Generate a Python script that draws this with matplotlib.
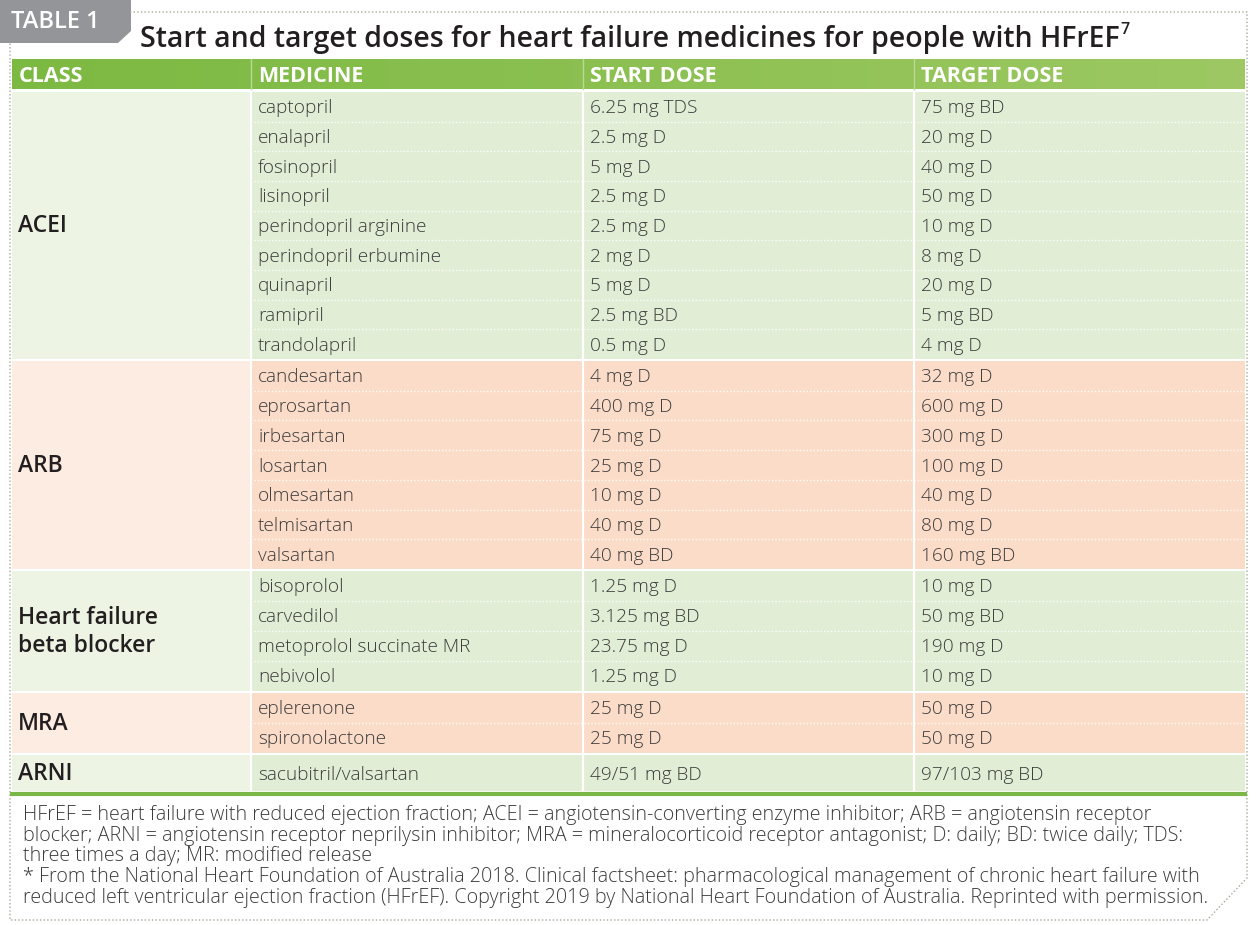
import numpy as np
import matplotlib.pyplot as plt
from matplotlib.patches import Rectangle, Polygon

# ---- table content ----
headers = ['CLASS', 'MEDICINE', 'START DOSE', 'TARGET DOSE']
classes = ['ACEI', 'ARB', 'Heart failure\nbeta blocker', 'MRA', 'ARNI']
medicines = [
    ['captopril', 'enalapril', 'fosinopril', 'lisinopril', 'perindopril arginine',
     'perindopril erbumine', 'quinapril', 'ramipril', 'trandolapril'],
    ['candesartan', 'eprosartan', 'irbesartan', 'losartan', 'olmesartan',
     'telmisartan', 'valsartan'],
    ['bisoprolol', 'carvedilol', 'metoprolol succinate MR', 'nebivolol'],
    ['eplerenone', 'spironolactone'],
    ['sacubitril/valsartan'],
]
start_doses = [
    ['6.25 mg TDS', '2.5 mg D', '5 mg D', '2.5 mg D', '2.5 mg D', '2 mg D',
     '5 mg D', '2.5 mg BD', '0.5 mg D'],
    ['4 mg D', '400 mg D', '75 mg D', '25 mg D', '10 mg D', '40 mg D', '40 mg BD'],
    ['1.25 mg D', '3.125 mg BD', '23.75 mg D', '1.25 mg D'],
    ['25 mg D', '25 mg D'],
    ['49/51 mg BD'],
]
target_doses = [
    ['75 mg BD', '20 mg D', '40 mg D', '50 mg D', '10 mg D', '8 mg D',
     '20 mg D', '5 mg BD', '4 mg D'],
    ['32 mg D', '600 mg D', '300 mg D', '100 mg D', '40 mg D', '80 mg D', '160 mg BD'],
    ['10 mg D', '50 mg BD', '190 mg D', '10 mg D'],
    ['50 mg D', '50 mg D'],
    ['97/103 mg BD'],
]
title = 'Start and target doses for heart failure medicines for people with HFrEF'
title_ref = '7'
footnote = [
    'HFrEF = heart failure with reduced ejection fraction; ACEI = angiotensin-converting enzyme inhibitor; ARB = angiotensin receptor',
    'blocker; ARNI = angiotensin receptor neprilysin inhibitor; MRA = mineralocorticoid receptor antagonist; D: daily; BD: twice daily; TDS:',
    'three times a day; MR: modified release',
    '* From the National Heart Foundation of Australia 2018. Clinical factsheet: pharmacological management of chronic heart failure with',
    'reduced left ventricular ejection fraction (HFrEF). Copyright 2019 by National Heart Foundation of Australia. Reprinted with permission.',
]

# ---- layout / style ----
W, H = 1257, 925
col_x = [12, 251, 583, 914, 1245]
text_pad = 7
row_h = 29.5
body_top = 92
green_cls, green_cell = '#edf4e4', '#e1edd5'
peach_cls, peach_cell = '#fdece1', '#fbdcc8'
FONT = 'Open Sans'
ink = '#231f20'
body_ink = '#3c3c3c'

fig = plt.figure(figsize=(W / 100, H / 100), dpi=100)
ax = fig.add_axes([0, 0, 1, 1])
ax.set_xlim(0, W)
ax.set_ylim(H, 0)
ax.axis('off')

# dotted frame with clipped bottom-right corner
frame = dict(color='#a3ab97', lw=1, ls=(0, (1, 1.6)))
ax.plot([130, 1247, 1247, 1207, 10, 10], [12, 12, 878, 920, 920, 43], **frame)

# grey tab
ax.add_patch(Polygon([(0, 0), (131, 0), (131, 31), (118, 43), (0, 43)],
                     closed=True, fc='#939598', ec='none'))
ax.text(11, 22, 'TABLE 1', color='white', fontsize=17, fontweight='semibold',
        family=FONT, va='center')

# title with superscript reference
t = ax.text(140, 39, title, fontsize=20.5, fontweight='semibold', family=FONT,
            color=ink, va='center')
fig.canvas.draw()
bb = t.get_window_extent(fig.canvas.get_renderer())
ax.text(bb.x1 + 1, 30, title_ref, fontsize=11.5, fontweight='semibold',
        family=FONT, color=ink, va='center')

# header bar with horizontal gradient
c0 = np.array([0x7c, 0xb9, 0x42]) / 255
c1 = np.array([0x9d, 0xc8, 0x63]) / 255
grad = np.linspace(0, 1, 256)[:, None] * (c1 - c0) + c0
ax.imshow(grad[None, :, :], extent=[col_x[0], col_x[-1], 89, 59], aspect='auto',
          zorder=1)
for i, h in enumerate(headers):
    ax.text(col_x[i] + text_pad, 76.5, h, color='white', fontsize=15.5,
            fontweight='bold', family=FONT, va='center', zorder=3)
for x in col_x[1:-1]:
    ax.plot([x, x], [59, 89], color='#b9da95', lw=1, zorder=2)

# body groups
y = body_top
for g, cls in enumerate(classes):
    n = len(medicines[g])
    gh = max(n * row_h + 1.5, 36)
    cls_c, cell_c = (green_cls, green_cell) if g % 2 == 0 else (peach_cls, peach_cell)
    ax.add_patch(Rectangle((col_x[0], y), col_x[1] - col_x[0], gh, fc=cls_c,
                           ec='none', zorder=1))
    ax.add_patch(Rectangle((col_x[1], y), col_x[-1] - col_x[1], gh, fc=cell_c,
                           ec='none', zorder=1))
    ax.text(col_x[0] + 6, y + gh / 2 + 1, cls, fontsize=16.5, fontweight='semibold',
            family=FONT, color=ink, va='center', linespacing=1.25, zorder=3)
    rh = gh / n
    for r in range(n):
        cy = y + (r + 0.5) * rh
        for c, col in enumerate([medicines, start_doses, target_doses]):
            ax.text(col_x[c + 1] + text_pad, cy - 0.5, col[g][r], fontsize=13.7,
                    fontweight='light', family=FONT, color=body_ink,
                    va='center_baseline', zorder=3)
        if r < n - 1:
            ax.plot([col_x[1] + 3, col_x[-1]], [y + (r + 1) * rh] * 2,
                    color='white', lw=1, ls=(0, (1, 1.5)), alpha=0.9, zorder=2)
    # column separators
    for x in col_x[1:-1]:
        ax.plot([x, x], [y, y + gh], color='white', lw=1.6, zorder=2)
    y += gh + 2

# bottom green rule
ax.plot([col_x[0], col_x[-1]], [y + 1, y + 1], color='#7ab648', lw=3, zorder=3)

# footnote
for i, line in enumerate(footnote):
    ax.text(23, 815 + i * 20.7, line, fontsize=14.2, family=FONT,
            fontweight='light', color=body_ink, va='center')

fig.savefig('out.png', dpi=100)
